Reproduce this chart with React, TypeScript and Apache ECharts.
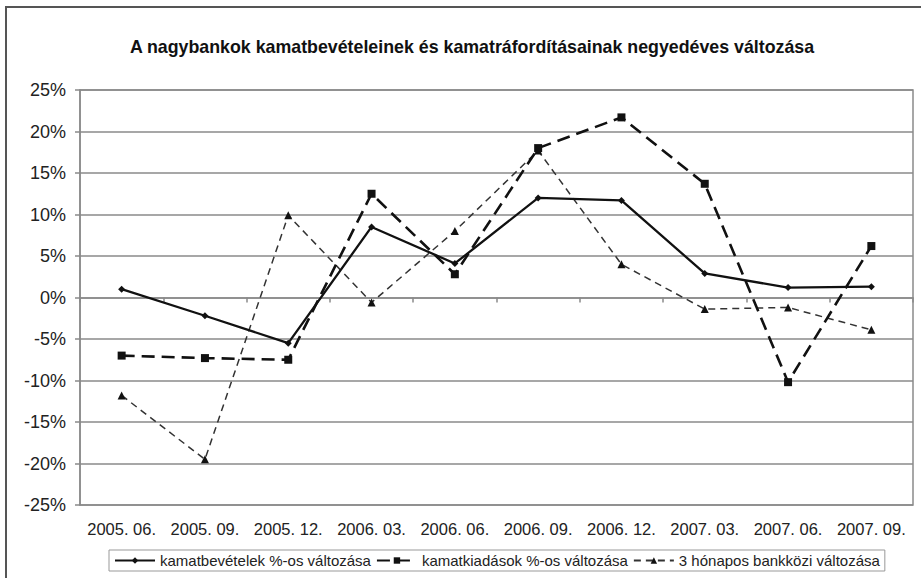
import React, { useEffect, useRef } from "react";
import * as echarts from "echarts";

const titleText = "A nagybankok kamatbevételeinek és kamatráfordításainak negyedéves változása";
const categories = ["2005. 06.", "2005. 09.", "2005. 12.", "2006. 03.", "2006. 06.", "2006. 09.", "2006. 12.", "2007. 03.", "2007. 06.", "2007. 09."];
const seriesNames = ["kamatbevételek %-os változása", "kamatkiadások %-os változása", "3 hónapos bankközi változása"];
const kamatbevetelek = [1.0, -2.2, -5.5, 8.5, 4.1, 12.0, 11.7, 2.9, 1.2, 1.3];
const kamatkiadasok = [-7.0, -7.3, -7.5, 12.5, 2.8, 18.0, 21.7, 13.7, -10.2, 6.2];
const bankkozi = [-11.8, -19.5, 9.9, -0.6, 8.0, 17.7, 4.0, -1.4, -1.2, -3.9];
const yMin = -25;
const yMax = 25;
const yStep = 5;

const FONT = "'Liberation Sans', Arial, sans-serif";
const GRID = "#8a8a8a";

export default function App() {
  const ref = useRef<HTMLDivElement>(null);
  useEffect(() => {
    if (!ref.current) return;
    const chart = echarts.init(ref.current, null, { renderer: "svg" });
    chart.setOption({
      animation: false,
      backgroundColor: "#ffffff",
      textStyle: { fontFamily: FONT },
      graphic: [
        {
          type: "rect",
          shape: { x: 6, y: 7, width: 960, height: 620 },
          style: { fill: "none", stroke: "#555", lineWidth: 2 },
          silent: true,
        },
      ],
      title: {
        text: titleText,
        left: 467,
        top: 33,
        textAlign: "center",
        textStyle: { fontFamily: FONT, fontSize: 17.8, fontWeight: "bold", color: "#111" },
      },
      legend: {
        left: 109,
        top: 550,
        data: seriesNames,
        itemWidth: 40,
        itemHeight: 8,
        itemGap: 5,
        padding: [3, 5],
        borderColor: "#999",
        borderWidth: 1,
        textStyle: { fontFamily: FONT, fontSize: 15, color: "#222" },
      },
      grid: {
        left: 80,
        right: 8,
        top: 90,
        bottom: 73,
        show: true,
        borderColor: GRID,
        borderWidth: 1.5,
        backgroundColor: "transparent",
      },
      xAxis: [
        {
          type: "category",
          data: categories,
          boundaryGap: true,
          position: "bottom",
          axisLine: { show: false, onZero: false },
          axisTick: { show: false },
          axisLabel: { fontFamily: FONT, fontSize: 16.5, color: "#222", margin: 15, interval: 0 },
        },
        {
          type: "category",
          data: categories,
          boundaryGap: true,
          position: "top",
          axisLine: { show: true, onZero: true, lineStyle: { color: GRID, width: 1.5 } },
          axisTick: { show: true, inside: true, length: 5, lineStyle: { color: GRID, width: 1.5 } },
          axisLabel: { show: false },
        },
      ],
      yAxis: {
        type: "value",
        min: yMin,
        max: yMax,
        interval: yStep,
        axisLine: { show: true, lineStyle: { color: GRID, width: 1.5 } },
        axisTick: { show: true, length: 5, lineStyle: { color: GRID, width: 1.5 } },
        splitLine: { show: true, lineStyle: { color: GRID, width: 1.5 } },
        axisLabel: {
          fontFamily: FONT,
          fontSize: 18,
          color: "#222",
          margin: 14,
          formatter: (v: number) => `${v}%`,
        },
      },
      series: [
        {
          name: seriesNames[0],
          type: "line",
          xAxisIndex: 0,
          data: kamatbevetelek,
          symbol: "diamond",
          symbolSize: 7,
          lineStyle: { color: "#111", width: 2.3, type: "solid" },
          itemStyle: { color: "#111" },
          z: 4,
        },
        {
          name: seriesNames[1],
          type: "line",
          xAxisIndex: 0,
          data: kamatkiadasok,
          symbol: "rect",
          symbolSize: 8,
          lineStyle: { color: "#111", width: 2.6, type: [13, 7] },
          itemStyle: { color: "#111" },
          z: 3,
        },
        {
          name: seriesNames[2],
          type: "line",
          xAxisIndex: 0,
          data: bankkozi,
          symbol: "triangle",
          symbolSize: 8,
          lineStyle: { color: "#333", width: 1.5, type: [7, 5] },
          itemStyle: { color: "#111" },
          z: 2,
        },
      ],
    });
    return () => chart.dispose();
  }, []);
  return (
    <div
      ref={ref}
      style={{ position: "fixed", left: 0, top: 0, width: 921, height: 578, background: "#fff" }}
    />
  );
}
